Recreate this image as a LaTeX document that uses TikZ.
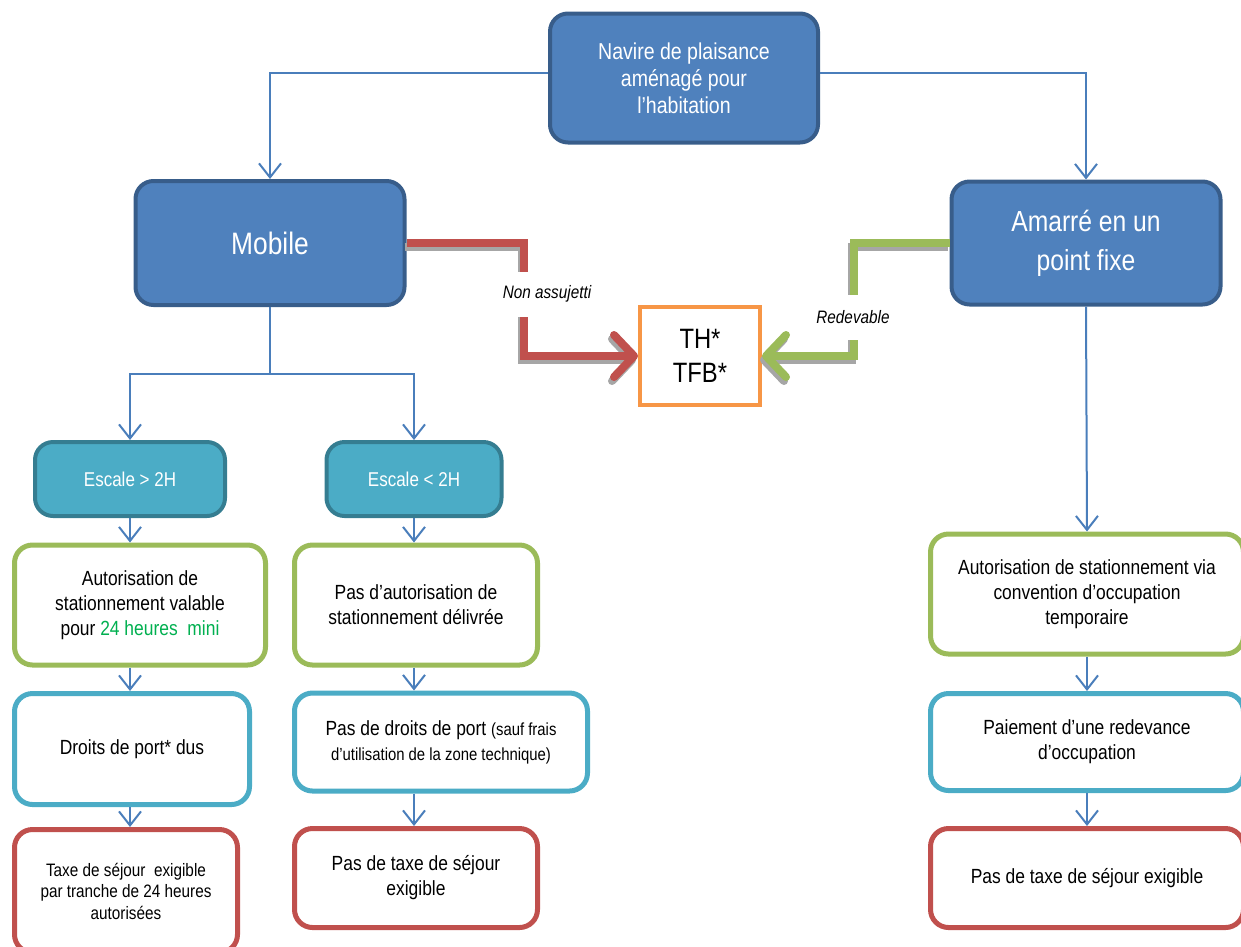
\documentclass[tikz,border=0pt]{standalone}
\usepackage{fontspec}
\setmainfont{Liberation Sans}[FakeStretch=0.85]
\usetikzlibrary{arrows.meta}

\definecolor{boxblue}{HTML}{4F81BD}
\definecolor{boxblueline}{HTML}{385D8A}
\definecolor{escfill}{HTML}{4BACC6}
\definecolor{escline}{HTML}{357D91}
\definecolor{okgreen}{HTML}{9BBB59}
\definecolor{duecyan}{HTML}{4BACC6}
\definecolor{taxred}{HTML}{C0504D}
\definecolor{thorange}{HTML}{F79646}
\definecolor{linkblue}{HTML}{4A7EBB}
\definecolor{hourgreen}{HTML}{00B050}
\definecolor{shade}{HTML}{A6A6A6}

\tikzset{
	card/.style = {draw, rounded corners = 18pt, inner sep = 0pt, align = center},
	mainbox/.style = {card, fill = boxblue, draw = boxblueline, line width = 4pt, text = white},
	escbox/.style = {card, fill = escfill, draw = escline, line width = 4pt, text = white,
		font = \fontsize{20}{24}\selectfont},
	okbox/.style = {card, draw = okgreen, fill = white, line width = 5pt},
	duebox/.style = {card, draw = duecyan, fill = white, line width = 5pt},
	taxbox/.style = {card, draw = taxred, fill = white, line width = 5pt},
	body/.style = {font = \fontsize{20.5}{25}\selectfont},
	link/.style = {draw = linkblue, line width = 2pt, -{Straight Barb[length = 14pt, width = 22pt]}},
	fat/.style = {line width = 8pt, -{Straight Barb[round, length = 20pt, width = 42pt]}},
	tag/.style = {fill = white, inner xsep = 2pt, minimum height = 45pt,
		font = \fontsize{18}{21}\selectfont\itshape}
}

\newcommand{\paren}[1]{{\fontsize{17.5}{21}\selectfont #1}}

\begin{document}
\begin{tikzpicture}[x = 1pt, y = -1pt]

	\useasboundingbox (0, 0) rectangle (1241, 946);

	% Top and second level
	
	\node [mainbox, minimum width = 268pt, minimum height = 129pt,
		font = \fontsize{23}{27}\selectfont] (navire) at (684, 78)
		{Navire de plaisance\\am\'enag\'e pour\\l'habitation};
	\node [mainbox, minimum width = 269pt, minimum height = 124pt,
		font = \fontsize{31}{36}\selectfont] (mobile) at (270, 243) {Mobile};
	\node [mainbox, minimum width = 269pt, minimum height = 123pt,
		font = \fontsize{29}{39}\selectfont] (amarre) at (1086, 243)
		{Amarr\'e en un\\point fixe};
	
	\node [draw = thorange, line width = 4pt, fill = white, inner sep = 0pt, align = center,
		minimum width = 120pt, minimum height = 98pt,
		font = \fontsize{28}{34}\selectfont] (th) at (700, 356) {TH*\\TFB*};

	% Mobile branch
	
	\node [escbox, minimum width = 190pt, minimum height = 74pt] (esc1) at (130, 479) {Escale > 2H};
	\node [escbox, minimum width = 175pt, minimum height = 74pt] (esc2) at (414, 479) {Escale < 2H};
	
	\node [okbox, body, minimum width = 251pt, minimum height = 120pt] (aut1) at (140, 605)
		{Autorisation de\\stationnement valable\\pour {\color{hourgreen}24 heures\ \ mini}};
	\node [okbox, body, minimum width = 243pt, minimum height = 120pt] (aut2) at (416, 605)
		{Pas d'autorisation de\\stationnement d\'elivr\'ee};
	
	\node [duebox, body, minimum width = 235pt, minimum height = 111pt] (dro1) at (132, 749)
		{Droits de port* dus};
	\node [duebox, body, minimum width = 293pt, minimum height = 98pt] (dro2) at (441, 742)
		{Pas de droits de port \paren{(sauf frais}\\\paren{d'utilisation de la zone technique)}};
	
	\node [taxbox, minimum width = 223pt, minimum height = 123pt,
		font = \fontsize{18}{21.5}\selectfont] (tax1) at (126, 891)
		{Taxe de s\'ejour\ \ exigible\\par tranche de 24 heures\\autoris\'ees};
	\node [taxbox, body, minimum width = 243pt, minimum height = 99pt] (tax2) at (416, 878)
		{Pas de taxe de s\'ejour\\exigible};

	% Fixed mooring branch
	
	\node [okbox, body, minimum width = 313pt, minimum height = 120pt] (aut3) at (1087, 594)
		{Autorisation de stationnement via\\convention d'occupation\\temporaire};
	\node [duebox, body, minimum width = 313pt, minimum height = 97pt] (dro3) at (1087, 742)
		{Paiement d'une redevance\\d'occupation};
	\node [taxbox, body, minimum width = 313pt, minimum height = 99pt] (tax3) at (1087, 878)
		{Pas de taxe de s\'ejour exigible};

	% Blue connectors
	
	\draw [link] ([yshift = 5pt] navire.west) -| (mobile.north);
	\draw [link] ([yshift = 5pt] navire.east) -| (amarre.north);
	
	\draw [link] (mobile.south) -- ++(0, 67) -| (esc1.north);
	\draw [link] (mobile.south) -- ++(0, 67) -| (esc2.north);
	
	\draw [link] (esc1.south) -- (esc1.south |- aut1.north);
	\draw [link] (esc1 |- aut1.south) -- (esc1 |- dro1.north);
	\draw [link] (esc1 |- dro1.south) -- (esc1 |- tax1.north);
	
	\draw [link] (esc2.south) -- (esc2.south |- aut2.north);
	\draw [link] (esc2 |- aut2.south) -- (esc2 |- dro2.north);
	\draw [link] (esc2 |- dro2.south) -- (esc2 |- tax2.north);
	
	\draw [link] (amarre.south) -- (aut3.north);
	\draw [link] (aut3.south) -- (dro3.north);
	\draw [link] (dro3.south) -- (tax3.north);

	% Thick arrows towards TH / TFB, with their shadow
	
	\begin{scope}[fat, draw = shade, transform canvas = {xshift = -2pt, yshift = -4pt}]
	
		\draw (mobile.east) -- ++(117, 0) |- (th.west);
		\draw (amarre.west) -- ++(-96, 0) |- (th.east);
		
	\end{scope}
	
	\draw [fat, taxred] (mobile.east) -- ++(117, 0) |- (th.west);
	\draw [fat, okgreen] (amarre.west) -- ++(-96, 0) |- (th.east);
	
	\node [tag] (nonassujetti) at (547, 294) {Non assujetti};
	\node [tag] (redevable) at (853, 317) {Redevable};

\end{tikzpicture}
\end{document}
